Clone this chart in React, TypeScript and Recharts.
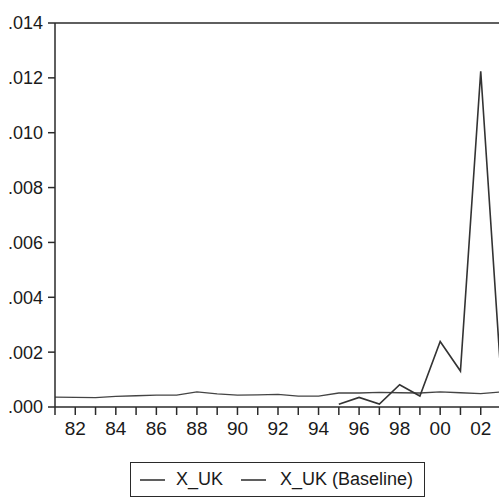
import React from 'react';
import { LineChart, Line, XAxis, YAxis, ReferenceLine, Legend } from 'recharts';

const years = [1981, 1982, 1983, 1984, 1985, 1986, 1987, 1988, 1989, 1990, 1991, 1992, 1993, 1994, 1995, 1996, 1997, 1998, 1999, 2000, 2001, 2002, 2003];
const baselineValues = [0.00036, 0.00035, 0.00034, 0.00039, 0.00041, 0.00043, 0.00043, 0.00055, 0.00048, 0.00043, 0.00044, 0.00046, 0.0004, 0.0004, 0.00051, 0.00051, 0.00053, 0.00052, 0.00051, 0.00055, 0.00052, 0.00049, 0.00055];
const xukValues: (number | null)[] = [null, null, null, null, null, null, null, null, null, null, null, null, null, null, 0.0001, 0.00035, 0.00011, 0.00081, 0.0004, 0.00239, 0.00131, 0.01224, 0.0011];
const yTicks = [0, 0.002, 0.004, 0.006, 0.008, 0.01, 0.012, 0.014];
const seriesNames = ['X_UK', 'X_UK (Baseline)'];

const data = years.map((y, i) => ({ year: y, xuk: xukValues[i], base: baselineValues[i] }));

const FONT = '"Liberation Sans", Arial, sans-serif';
const INK = '#2a2a2a';

const LegendBox = () => (
  <div
    style={{
      boxSizing: 'border-box',
      width: 295,
      height: 35,
      border: `1.5px solid ${INK}`,
      display: 'flex',
      alignItems: 'center',
      fontFamily: FONT,
      fontSize: 18,
      color: '#1a1a1a',
      paddingLeft: 9,
    }}
  >
    <svg width={25} height={4} style={{ marginRight: 11 }}>
      <line x1={0} y1={2} x2={25} y2={2} stroke={INK} strokeWidth={1.5} />
    </svg>
    <span>{seriesNames[0]}</span>
    <svg width={25} height={4} style={{ marginLeft: 18, marginRight: 14 }}>
      <line x1={0} y1={2} x2={25} y2={2} stroke={INK} strokeWidth={1.5} />
    </svg>
    <span>{seriesNames[1]}</span>
  </div>
);

export default function App() {
  return (
    <div style={{ position: 'fixed', top: 0, left: 0, width: 499, height: 499, overflow: 'hidden', background: '#fff' }}>
      <LineChart width={508} height={499} data={data} margin={{ top: 23, right: 7, bottom: 17, left: 0 }}>
        <XAxis
          dataKey="year"
          type="number"
          domain={[1981, 2003]}
          ticks={years}
          interval={0}
          allowDataOverflow
          height={40}
          tickSize={8}
          tickMargin={7}
          axisLine={{ stroke: INK, strokeWidth: 1.5 }}
          tickLine={{ stroke: INK, strokeWidth: 1.5 }}
          tick={{ fill: '#1a1a1a', fontSize: 19, fontFamily: FONT }}
          tickFormatter={(v: number) => (v % 2 === 0 ? String(v % 100).padStart(2, '0') : '')}
        />
        <YAxis
          type="number"
          domain={[0, 0.014]}
          ticks={yTicks}
          interval={0}
          width={55}
          tickSize={7}
          tickMargin={5}
          axisLine={{ stroke: INK, strokeWidth: 1.5 }}
          tickLine={{ stroke: INK, strokeWidth: 1.5 }}
          tick={{ fill: '#1a1a1a', fontSize: 18, fontFamily: FONT }}
          tickFormatter={(v: number) => v.toFixed(3).replace(/^0/, '')}
        />
        <ReferenceLine y={0.014} stroke={INK} strokeWidth={1.5} />
        <Line dataKey="base" name={seriesNames[1]} stroke="#444" strokeWidth={1.3} dot={false} isAnimationActive={false} />
        <Line dataKey="xuk" name={seriesNames[0]} stroke="#333" strokeWidth={1.6} dot={false} isAnimationActive={false} />
        <Legend
          verticalAlign="bottom"
          content={() => <LegendBox />}
          wrapperStyle={{ left: 130, bottom: 2, width: 295, height: 35 }}
        />
      </LineChart>
    </div>
  );
}
